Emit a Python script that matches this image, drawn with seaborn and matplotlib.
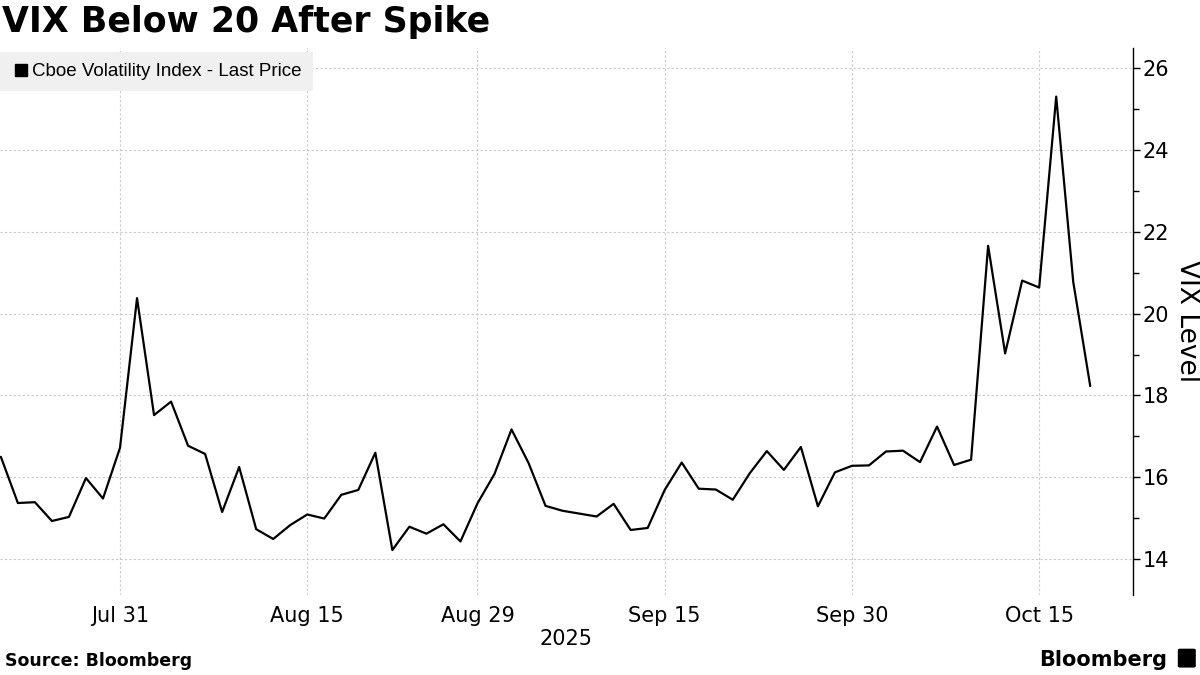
import pandas as pd
import seaborn as sns
import matplotlib.pyplot as plt
from matplotlib.lines import Line2D
from matplotlib.patches import FancyBboxPatch
from matplotlib.ticker import MultipleLocator

# daily closes, one per weekday (Jul 22 - Oct 20, 2025)
dates = pd.bdate_range('2025-07-22', '2025-10-20')
vix = [16.50, 15.37, 15.39, 14.93,
       15.03, 15.98, 15.48, 16.72, 20.38,
       17.52, 17.85, 16.77, 16.57, 15.15,
       16.25, 14.73, 14.49, 14.83, 15.09,
       14.99, 15.57, 15.69, 16.60, 14.22,
       14.79, 14.62, 14.85, 14.43, 15.36,
       16.08, 17.17, 16.35, 15.30, 15.18,
       15.11, 15.04, 15.35, 14.71, 14.76,
       15.69, 16.36, 15.72, 15.70, 15.45,
       16.10, 16.64, 16.18, 16.74, 15.29,
       16.12, 16.28, 16.29, 16.63, 16.65,
       16.37, 17.24, 16.30, 16.43, 21.66,
       19.03, 20.81, 20.64, 25.31, 20.78,
       18.23]
tick_dates = ['2025-07-31', '2025-08-15', '2025-08-29', '2025-09-15', '2025-09-30', '2025-10-15']
tick_labels = ['Jul 31', 'Aug 15', 'Aug 29', 'Sep 15', 'Sep 30', 'Oct 15']
y_ticks = [14, 16, 18, 20, 22, 24, 26]

df = pd.DataFrame({'date': dates, 'vix': vix})
df['day'] = range(len(df))
tick_pos = [dates.get_loc(pd.Timestamp(d)) for d in tick_dates]

sns.set_style('white')
plt.rcParams['font.family'] = ['DejaVu Sans']
for k in ['text.color', 'axes.labelcolor', 'xtick.color', 'ytick.color']:
    plt.rcParams[k] = 'black'

fig = plt.figure(figsize=(12, 6.75), dpi=100)
ax = fig.add_axes([0.0, 0.1185, 0.944, 0.8105])

sns.lineplot(data=df, x='day', y='vix', color='black', linewidth=1.6, ax=ax)

ax.set_xlim(-0.05, 66.5)
ax.set_ylim(13.12, 26.5)

# axis / spines
for s in ['left', 'top', 'bottom']:
    ax.spines[s].set_visible(False)
ax.spines['right'].set_color('black')
ax.spines['right'].set_linewidth(1.0)
ax.yaxis.tick_right()
ax.yaxis.set_label_position('right')
ax.set_yticks(y_ticks)
ax.yaxis.set_minor_locator(MultipleLocator(1))
ax.tick_params(axis='y', which='major', length=5, width=1, labelsize=15, pad=2)
ax.tick_params(axis='y', which='minor', length=4, width=1)
ax.set_xticks(tick_pos)
ax.set_xticklabels(tick_labels)
ax.tick_params(axis='x', length=0, labelsize=15, pad=8)

ax.grid(True, which='major', color='#c8c8c8', linestyle=(0, (2, 2)), linewidth=0.8)

ax.set_ylabel('VIX Level', rotation=270, fontsize=19, labelpad=22)
ax.set_xlabel('2025', fontsize=15, labelpad=2)

# legend as grey box with square marker
handle = Line2D([], [], marker='s', color='black', linestyle='none', markersize=9)
leg = ax.legend([handle], ['Cboe Volatility Index - Last Price'], loc='upper left',
                bbox_to_anchor=(0, 0.993), borderaxespad=0, frameon=True, fancybox=False,
                handletextpad=0.1, handlelength=1.0, borderpad=0.6,
                prop={'family': ['Liberation Sans', 'DejaVu Sans'], 'size': 13.5})
leg.get_frame().set_facecolor('#f0f0f0')
leg.get_frame().set_edgecolor('none')
leg.get_frame().set_alpha(1)

fig.text(0.002, 0.993, 'VIX Below 20 After Spike', fontsize=25, fontweight='bold',
         va='top', ha='left')
fig.text(0.004, 0.008, 'Source: Bloomberg', fontsize=12.5, fontweight='bold',
         va='bottom', ha='left')
fig.text(0.973, 0.008, 'Bloomberg', fontsize=15, fontweight='bold',
         va='bottom', ha='right')
# small logo mark next to the wordmark
fig.patches.append(FancyBboxPatch((0.9835, 0.013), 0.011, 0.024, boxstyle='round,pad=0.002',
                                  transform=fig.transFigure, facecolor='black', edgecolor='none'))

plt.savefig('out.png', dpi=100)
